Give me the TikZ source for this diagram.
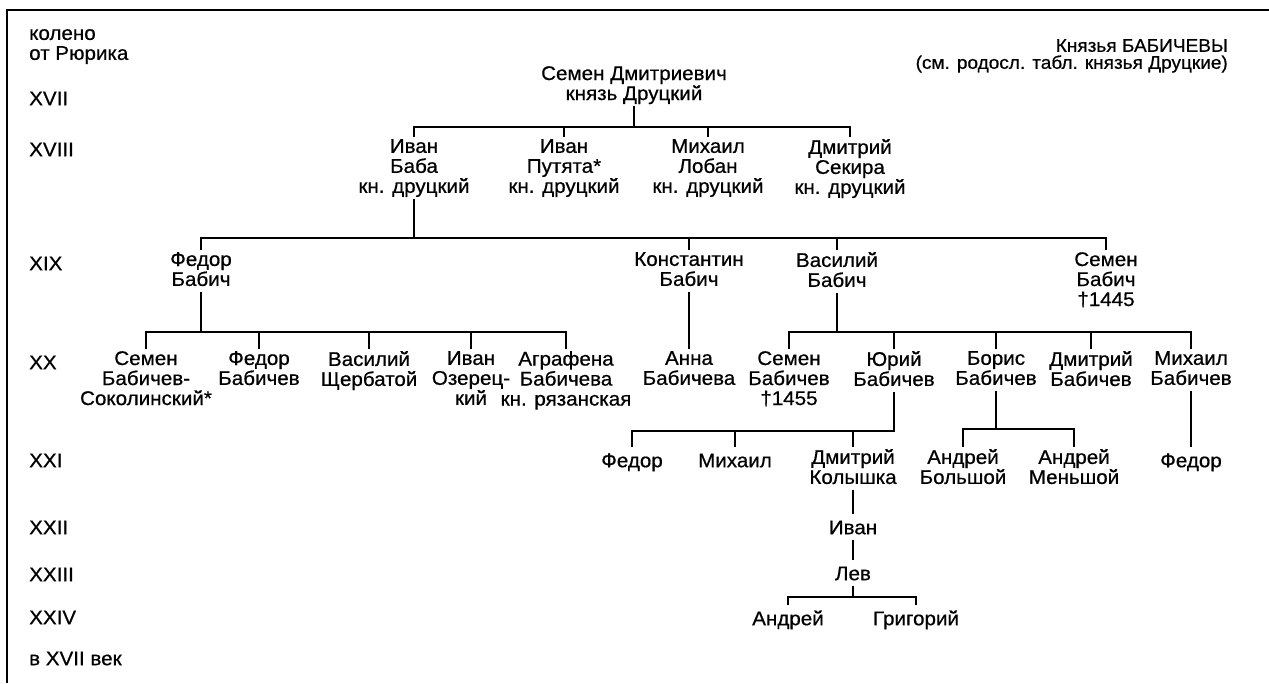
\documentclass[tikz,border=0pt]{standalone}
\usepackage{fontspec}
\setmainfont{Liberation Sans}[FakeStretch=1.04, FakeBold=0.6]
\newcommand\topstrut{\rule{0pt}{18pt}}
\newcommand\botstrut{\rule[-6pt]{0pt}{6pt}}
\tikzset{
  person/.style={align=center, anchor=north, inner sep=0pt,
    font=\fontsize{19.8}{20}\selectfont,
    execute at begin node=\topstrut, execute at end node=\botstrut},
  gen/.style={person, align=left, anchor=north west},
  title/.style={align=right, anchor=north east, inner sep=0pt,
    font=\fontsize{18.3}{17}\selectfont},
  kin/.style={line width=1.1pt, shorten >=2pt},
}
\begin{document}
\begin{tikzpicture}[x=1pt, y=-1pt]
\useasboundingbox (0,0) rectangle (1269,683);
\draw[line width=2pt] (7,683) -- (7,10) -- (1269,10);

% колена
\node[gen] (koleno) at (29,29) {колено\\от Рюрика};
\node[gen] (g17) at (29,87) {XVII};
\node[gen] (g18) at (29,138) {XVIII};
\node[gen] (g19) at (29,252) {XIX};
\node[gen] (g20) at (29,351) {XX};
\node[gen] (g21) at (29,449) {XXI};
\node[gen] (g22) at (29,516) {XXII};
\node[gen] (g23) at (29,563) {XXIII};
\node[gen] (g24) at (29,606) {XXIV};
\node[gen] (g17v) at (29,647) {в XVII век};

\node[title] (head) at (1228,39) {Князья БАБИЧЕВЫ\\(см. родосл. табл. князья Друцкие)};

% XVII -- XVIII
\node[person] (root) at (634,66) {Семен Дмитриевич\\князь Друцкий};
\node[person] (ivanB) at (414,139) {Иван\\Баба\\кн. друцкий};
\node[person] (ivanP) at (564,139) {Иван\\Путята*\\кн. друцкий};
\node[person] (mikhL) at (708,139) {Михаил\\Лобан\\кн. друцкий};
\node[person] (dmitS) at (850,139) {Дмитрий\\Секира\\кн. друцкий};

% XIX
\node[person] (fedB) at (201,252) {Федор\\Бабич};
\node[person] (konB) at (689,252) {Константин\\Бабич};
\node[person] (vasB) at (837,252) {Василий\\Бабич};
\node[person] (semB) at (1106,252) {Семен\\Бабич\\†1445};

% XX
\node[person] (semS) at (146,351) {Семен\\Бабичев-\\Соколинский*};
\node[person] (fedBv) at (259,351) {Федор\\Бабичев};
\node[person] (vasS) at (369,351) {Василий\\Щербатой};
\node[person] (ivanO) at (471,351) {Иван\\Озерец-\\кий};
\node[person] (agrB) at (566,351) {Аграфена\\Бабичева\\кн. рязанская};
\node[person] (anna) at (689,351) {Анна\\Бабичева};
\node[person] (semBv) at (789,351) {Семен\\Бабичев\\†1455};
\node[person] (yuri) at (894,351) {Юрий\\Бабичев};
\node[person] (boris) at (996,351) {Борис\\Бабичев};
\node[person] (dmitB) at (1091,351) {Дмитрий\\Бабичев};
\node[person] (mikhB) at (1191,351) {Михаил\\Бабичев};

% XXI -- XXIV
\node[person] (fedor) at (632,449) {Федор};
\node[person] (mikhail) at (735,449) {Михаил};
\node[person] (dmitK) at (853,449) {Дмитрий\\Колышка};
\node[person] (andrB) at (963,449) {Андрей\\Большой};
\node[person] (andrM) at (1074,449) {Андрей\\Меньшой};
\node[person] (fedorM) at (1191,449) {Федор};
\node[person] (ivanK) at (853,516) {Иван};
\node[person] (lev) at (853,562) {Лев};
\node[person] (andrL) at (788,607) {Андрей};
\node[person] (grig) at (916,607) {Григорий};

\foreach \c in {ivanB,ivanP,mikhL,dmitS}
  \draw[kin] (root.south) -- (root.south |- 0,127) -| (\c.north);
\foreach \c in {fedB,konB,vasB,semB}
  \draw[kin] (ivanB.south) -- (ivanB.south |- 0,238) -| (\c.north);
\foreach \c in {semS,fedBv,vasS,ivanO,agrB}
  \draw[kin] (fedB.south) -- (fedB.south |- 0,332) -| (\c.north);
\foreach \c in {semBv,yuri,boris,dmitB,mikhB}
  \draw[kin] (vasB.south) -- (vasB.south |- 0,332) -| (\c.north);
\foreach \c in {fedor,mikhail,dmitK}
  \draw[kin] (yuri.south) -- (yuri.south |- 0,431) -| (\c.north);
\foreach \c in {andrB,andrM}
  \draw[kin] (boris.south) -- (boris.south |- 0,429) -| (\c.north);
\foreach \c in {andrL,grig}
  \draw[kin] (lev.south) -- (lev.south |- 0,597) -| (\c.north);
\draw[kin] (konB.south) -- (anna.north);
\draw[kin] (mikhB.south) -- (fedorM.north);
\draw[kin] (dmitK.south) -- (ivanK.north);
\draw[kin] (ivanK.south) -- (lev.north);
\end{tikzpicture}
\end{document}
